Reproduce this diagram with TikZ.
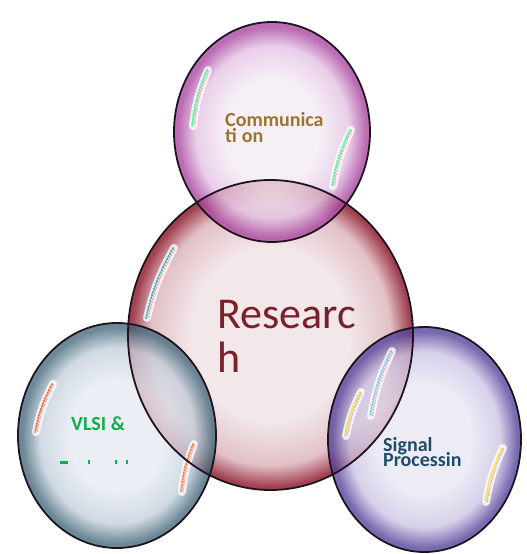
\documentclass[tikz,border=0pt]{standalone}
\usepackage{fontspec}
\setmainfont{Carlito}
\usetikzlibrary{calc}
\definecolor{cmIn}{HTML}{F4ECF4}
\definecolor{cmMid}{HTML}{E4C2E4}
\definecolor{cmRim}{HTML}{A8449E}
\definecolor{rsIn}{HTML}{F2E7E9}
\definecolor{rsMid}{HTML}{E2C0C6}
\definecolor{rsRim}{HTML}{A04050}
\definecolor{vlIn}{HTML}{E6EAF2}
\definecolor{vlMid}{HTML}{C4D0DC}
\definecolor{vlRim}{HTML}{44687A}
\definecolor{spIn}{HTML}{E9E7F3}
\definecolor{spMid}{HTML}{CCC4E4}
\definecolor{spRim}{HTML}{54409A}
\definecolor{txtComm}{HTML}{9C7432}
\definecolor{txtRes}{HTML}{7B1F2B}
\definecolor{txtVlsi}{HTML}{0DB04B}
\definecolor{txtSig}{HTML}{1E4D6B}
\definecolor{edgeDark}{HTML}{1E1420}
\pgfdeclareradialshading{bubComm}{\pgfpoint{0bp}{0bp}}{color(0bp)=(cmIn); color(12bp)=(cmIn); color(19.5bp)=(cmMid); color(24bp)=(cmRim); color(25bp)=(cmRim); color(50bp)=(cmRim)}
\pgfdeclareradialshading{bubRes}{\pgfpoint{0bp}{0bp}}{color(0bp)=(rsIn); color(14bp)=(rsIn); color(21bp)=(rsMid); color(24.5bp)=(rsRim); color(25bp)=(rsRim); color(50bp)=(rsRim)}
\pgfdeclareradialshading{bubVlsi}{\pgfpoint{0bp}{0bp}}{color(0bp)=(vlIn); color(12bp)=(vlIn); color(19.5bp)=(vlMid); color(24bp)=(vlRim); color(25bp)=(vlRim); color(50bp)=(vlRim)}
\pgfdeclareradialshading{bubSig}{\pgfpoint{0bp}{0bp}}{color(0bp)=(spIn); color(12bp)=(spIn); color(19.5bp)=(spMid); color(24bp)=(spRim); color(25bp)=(spRim); color(50bp)=(spRim)}
\tikzset{
  outline/.style={draw=edgeDark, line width=1.8pt},
  glare/.style={line width=8pt, white, opacity=0.8, line cap=round},
  speck/.style={line width=2pt, line cap=round, dash pattern=on 1pt off 2pt, opacity=0.75},
  lbl/.style={inner sep=0pt, anchor=base west},
}
\newcommand{\glint}[5]{%
  \draw[glare] (#1,#2) to[bend right=8] (#3,#4);
  \draw[speck, color=#5] ($(#1,#2)+(-1,0)$) to[bend right=8] ($(#3,#4)+(-1,0)$);
  \draw[speck, color=pink!70!red, dash phase=1.5pt, line width=1.4pt] ($(#1,#2)+(1,0)$) to[bend right=8] ($(#3,#4)+(1,0)$);
}
\begin{document}
\begin{tikzpicture}[x=1pt,y=-1pt]
\useasboundingbox (0,0) rectangle (527,554);
\fill[white] (0,0) rectangle (527,554);
% fills
\shade[shading=bubRes] (270.5,335) ellipse [x radius=142.5, y radius=155];
\shade[shading=bubComm, fill opacity=0.78] (272,132) ellipse [x radius=98, y radius=110];
\shade[shading=bubVlsi, fill opacity=0.78] (117,435.5) ellipse [x radius=99, y radius=112.5];
\shade[shading=bubSig, fill opacity=0.78] (424.5,439.5) ellipse [x radius=96.5, y radius=112.5];
% glints
\glint{208}{70}{193}{126}{green!50!cyan}
\glint{351}{130}{333}{186}{green!50!cyan}
\glint{174}{248}{147}{318}{cyan!60!green}
\glint{392}{351}{371}{416}{cyan!70}
\glint{53}{384}{36}{432}{red!50!orange}
\glint{194}{444}{182}{492}{orange!70!red}
\glint{361}{392}{346}{436}{yellow!80!green}
\glint{503}{448}{486}{502}{yellow!80!orange}
% outlines
\draw[outline] (270.5,335) ellipse [x radius=142.5, y radius=155];
\draw[outline] (272,132) ellipse [x radius=98, y radius=110];
\draw[outline] (117,435.5) ellipse [x radius=99, y radius=112.5];
\draw[outline] (424.5,439.5) ellipse [x radius=96.5, y radius=112.5];
% labels
\node[lbl, text=txtComm, font=\fontsize{20}{16}\selectfont\bfseries] (comm) at (225,126)
  {\lineskiplimit=-100pt\vtop{\hbox{Communica}\hbox{ti\hspace{5pt}on}}};
\node[lbl, text=txtRes, font=\fontsize{44}{44}\selectfont] (res) at (217,328)
  {\lineskiplimit=-100pt\vtop{\hbox{Researc}\hbox{h}}};
\node[lbl, text=txtVlsi, font=\fontsize{20}{16}\selectfont\bfseries] (vlsi) at (71,430) {VLSI \&};
\node[lbl, text=txtSig, font=\fontsize{20}{15}\selectfont\bfseries] (sig) at (383,451)
  {\lineskiplimit=-100pt\vtop{\hbox{Signal}\hbox{Processin}}};
% clipped fragments under VLSI
\fill[txtVlsi] (60,461) rectangle (68,463.5);
\fill[txtVlsi] (87.5,460) rectangle (89.5,463.5);
\fill[txtVlsi] (114.5,460) rectangle (116.5,463.5);
\fill[txtVlsi] (125.5,460) rectangle (127.5,463.5);
\end{tikzpicture}
\end{document}
